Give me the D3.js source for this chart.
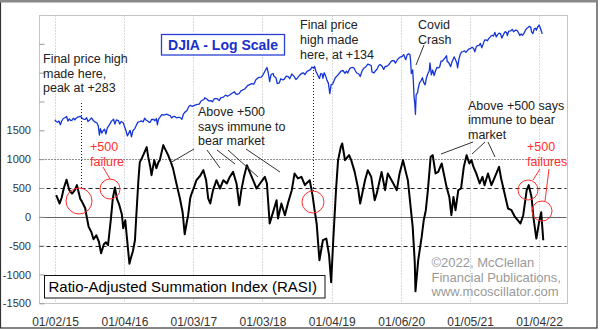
<!DOCTYPE html>
<html><head><meta charset="utf-8">
<script src="https://cdn.jsdelivr.net/npm/d3@7"></script>
<style>body{margin:0;background:#fff}svg{display:block;font-family:"Liberation Sans",Arial,sans-serif}</style>
</head><body><svg id="c" width="600" height="330"></svg>
<script>
// ---------- data ----------
const xTickLabels = ["01/02/15","01/04/16","01/03/17","01/03/18","01/04/19","01/06/20","01/05/21","01/04/22"];
const yTicks = [-1500,-1000,-500,0,500,1000,1500,2000,2500,3000];
const yLabelMax = 1500;
const refLevels = [1000,500,0,-500];

// RASI (decimal year, value)
const rasiT = [2015.02,2015.07,2015.10,2015.13,2015.17,2015.21,2015.25,2015.29,2015.32,2015.37,2015.39,2015.44,2015.46,2015.49,2015.53,2015.56,2015.60,2015.64,2015.67,2015.71,2015.74,2015.77,2015.81,2015.84,2015.87,2015.90,2015.93,2015.97,2015.99,
2016.02,2016.04,2016.08,2016.10,2016.13,2016.16,2016.18,2016.21,2016.23,2016.26,2016.28,2016.33,2016.35,2016.38,2016.40,2016.44,2016.47,2016.50,2016.52,2016.57,2016.59,2016.64,2016.68,2016.71,2016.76,2016.81,2016.85,2016.88,2016.91,2016.93,2016.96,2016.98,
2017.01,2017.05,2017.10,2017.15,2017.19,2017.22,2017.25,2017.29,2017.34,2017.39,2017.44,2017.49,2017.53,2017.58,2017.63,2017.67,2017.70,2017.74,2017.78,2017.82,2017.87,2017.92,2017.97,
2018.04,2018.07,2018.11,2018.16,2018.21,2018.23,2018.28,2018.33,2018.38,2018.43,2018.47,2018.52,2018.57,2018.62,2018.64,2018.69,2018.73,2018.76,2018.79,2018.83,2018.86,2018.88,2018.93,2018.97,
2019.00,2019.03,2019.07,2019.10,2019.14,2019.16,2019.20,2019.26,2019.29,2019.34,2019.39,2019.42,2019.49,2019.53,2019.58,2019.63,2019.66,2019.73,2019.78,2019.82,2019.90,2019.95,2019.99,
2020.04,2020.08,2020.11,2020.15,2020.18,2020.21,2020.22,2020.26,2020.31,2020.34,2020.37,2020.40,2020.44,2020.47,2020.51,2020.55,2020.60,2020.63,2020.67,2020.71,2020.74,2020.77,2020.80,2020.84,2020.88,2020.92,2020.96,
2021.00,2021.03,2021.06,2021.10,2021.15,2021.19,2021.22,2021.27,2021.32,2021.37,2021.43,2021.46,2021.51,2021.56,2021.61,2021.66,2021.70,2021.74,2021.78,2021.83,2021.86,2021.90,2021.93,2021.97,
2022.01,2022.04,2022.07];
const rasiV = [375,231,335,496,644,462,404,462,549,306,271,149,10,-175,-267,-389,-319,-441,-632,-476,-441,-493,-59,323,509,306,219,45,-198,
-59,-319,-814,-719,-597,-406,28,635,948,1017,1069,1208,1052,878,722,983,844,948,983,1243,1191,1069,948,844,578,323,80,-302,-94,28,323,404,
496,635,705,809,635,318,231,462,635,491,635,578,687,779,578,201,462,705,896,779,635,491,578,
693,578,-116,85,288,-30,231,28,259,462,752,665,693,549,578,635,375,115,-116,-753,-545,-406,-377,-667,
-1135,-406,462,983,1213,1272,983,1069,983,779,491,231,635,809,693,288,404,779,462,752,578,462,752,
983,779,635,172,-175,-788,-1292,-753,-349,-59,115,462,1040,1069,752,779,925,752,519,345,28,345,115,462,491,866,1069,
925,983,866,752,578,693,549,752,549,693,866,665,404,144,115,-2,-59,-116,28,462,549,345,-30,-377,
-89,80,-406];

// DJIA (decimal year, index level)
const djiaT = [2015.00,2015.02,2015.04,2015.06,2015.08,2015.10,2015.12,2015.15,2015.17,2015.19,2015.21,2015.23,2015.25,2015.27,2015.29,2015.31,2015.33,2015.37,2015.40,2015.42,2015.44,2015.46,2015.48,2015.50,2015.53,2015.56,2015.58,2015.61,2015.63,2015.645,2015.66,2015.68,2015.70,2015.72,2015.74,2015.76,2015.79,2015.82,2015.85,2015.87,2015.89,2015.92,2015.94,2015.96,2015.99,
2016.01,2016.03,2016.05,2016.07,2016.09,2016.11,2016.13,2016.16,2016.18,2016.20,2016.23,2016.25,2016.28,2016.30,2016.32,2016.34,2016.36,2016.38,2016.40,2016.43,2016.45,2016.47,2016.485,2016.50,2016.52,2016.55,2016.58,2016.60,2016.62,2016.64,2016.67,2016.69,2016.71,2016.74,2016.76,2016.79,2016.81,2016.84,2016.86,2016.88,2016.91,2016.94,2016.96,2016.99,
2017.02,2017.06,2017.09,2017.12,2017.16,2017.17,2017.20,2017.23,2017.26,2017.28,2017.31,2017.35,2017.38,2017.40,2017.44,2017.47,2017.50,2017.53,2017.56,2017.60,2017.62,2017.64,2017.67,2017.69,2017.72,2017.75,2017.79,2017.82,2017.85,2017.88,2017.91,2017.95,2017.99,
2018.02,2018.05,2018.07,2018.09,2018.11,2018.13,2018.16,2018.17,2018.20,2018.22,2018.25,2018.27,2018.30,2018.32,2018.35,2018.38,2018.40,2018.43,2018.46,2018.49,2018.51,2018.54,2018.57,2018.60,2018.62,2018.65,2018.67,2018.70,2018.72,2018.75,2018.76,2018.78,2018.80,2018.82,2018.83,2018.85,2018.87,2018.88,2018.90,2018.92,2018.94,2018.96,2018.98,
2019.00,2019.02,2019.04,2019.06,2019.09,2019.12,2019.14,2019.17,2019.20,2019.22,2019.24,2019.27,2019.30,2019.33,2019.35,2019.37,2019.40,2019.42,2019.45,2019.48,2019.50,2019.53,2019.55,2019.58,2019.59,2019.62,2019.64,2019.66,2019.69,2019.71,2019.74,2019.76,2019.78,2019.80,2019.83,2019.86,2019.88,2019.91,2019.93,2019.95,2019.97,
2020.00,2020.03,2020.05,2020.07,2020.08,2020.10,2020.12,2020.14,2020.15,2020.16,2020.18,2020.19,2020.20,2020.21,2020.22,2020.23,2020.25,2020.26,2020.28,2020.30,2020.32,2020.34,2020.36,2020.38,2020.40,2020.42,2020.43,2020.45,2020.47,2020.49,2020.51,2020.53,2020.55,2020.57,2020.59,2020.61,2020.63,2020.65,2020.67,2020.68,2020.70,2020.73,2020.75,2020.77,2020.78,2020.80,2020.82,2020.83,2020.85,2020.87,2020.89,2020.91,2020.93,2020.95,2020.97,2020.99,
2021.02,2021.04,2021.06,2021.08,2021.10,2021.12,2021.14,2021.16,2021.18,2021.20,2021.22,2021.24,2021.26,2021.28,2021.31,2021.33,2021.35,2021.37,2021.39,2021.41,2021.43,2021.45,2021.47,2021.50,2021.52,2021.54,2021.55,2021.57,2021.60,2021.62,2021.64,2021.67,2021.69,2021.71,2021.73,2021.75,2021.77,2021.79,2021.81,2021.83,2021.85,2021.87,2021.89,2021.90,2021.92,2021.94,2021.96,2021.97,2021.99,
2022.00,2022.01,2022.025,2022.04,2022.055];
const djiaV = [17833,17600,17500,17670,17165,17670,17970,18140,18290,17660,17950,17720,17780,18050,17830,18050,18190,18310,18010,17900,17890,18120,17600,17760,18090,17700,17540,17400,16990,15870,16650,16100,16400,16600,16000,16770,17140,17650,17900,17250,17820,17720,17260,17600,17425,
16900,16400,15766,16100,16450,15660,16400,16700,17100,17480,17600,17685,17560,18050,17800,17700,17530,17500,17870,17900,17700,18010,17140,17900,18150,18560,18470,18540,18630,18500,18400,18080,18260,18300,18100,18150,18160,17890,18600,18870,19100,19750,19920,19760,
19900,20070,20100,20620,20820,21100,20900,20600,20660,20450,20950,20950,20650,21080,21200,21530,21350,21550,21800,22090,21750,21670,21800,22200,22400,22560,23160,23330,23500,23400,24230,24650,24720,
25300,26100,26600,25500,23860,25200,25400,24900,24600,23530,23640,24400,24200,24300,24900,24800,24400,25300,24900,24270,24500,25000,25400,25500,25200,25800,25960,26150,26660,26450,26830,25800,25250,24700,24440,25400,25300,24500,25540,24950,24100,23600,21790,
23330,23400,24000,24580,25000,25440,25880,25990,25450,25850,25500,26400,26600,26500,25940,25500,25300,24820,26000,26550,26700,27300,27200,27000,25720,25500,25900,26200,27000,27200,26800,26200,26800,26800,27100,27700,28000,28050,27500,28000,28450,
28800,28950,29350,28550,28250,29300,29550,29350,27960,25400,26100,23850,21200,20190,18590,21600,21900,22650,23700,24000,24600,23700,23300,24600,25400,25900,27570,25130,26080,25020,25900,26600,26500,26700,27900,27950,28300,28650,29100,27800,27660,26760,27800,28500,28840,28210,27460,26500,28390,29480,29960,30050,30200,29860,30220,30600,
30800,31060,30820,30000,31150,31450,31500,31960,30930,31800,32780,32860,32620,33150,33750,34030,33820,34780,33590,34200,34600,34480,33290,34430,34990,34690,33960,35100,35210,35600,34960,35400,35300,34750,33970,34340,34000,34500,35300,35800,36100,36430,36140,34900,34480,35750,35900,35365,36340,
36400,36800,36100,35300,34400];

// ---------- layout ----------
const svg = d3.select("#c");
const plot = {left:39.5, top:15.5, right:567.5, bottom:303.5};
const parseD = d3.timeParse("%m/%d/%y");
const decYear = s => { const d = parseD(s); return d.getFullYear() + d3.timeDay.count(d3.timeYear.floor(d), d)/365; };
const tickYears = xTickLabels.map(decYear);

const x = d3.scaleLinear().domain([tickYears[0], tickYears[tickYears.length-1]]).range([55, 539]);
const yR = d3.scaleLinear().domain([-1500, 3500]).range([303.3, 15]);
const yD = d3.scaleLog().domain([15000, 40000]).range([142.4, 14.1]);

// outer frame
svg.append("rect").attr("x",0.5).attr("y",0.5).attr("width",596.5).attr("height",327.5)
  .attr("fill","#fff").attr("stroke","#333").attr("stroke-width",1.2);
svg.append("rect").attr("x",0).attr("y",0).attr("width",597).attr("height",2.5).attr("fill","#8a8a8a");

// plot frame
svg.append("rect").attr("x",plot.left).attr("y",plot.top)
  .attr("width",plot.right-plot.left).attr("height",plot.bottom-plot.top)
  .attr("fill","none").attr("stroke","#c4c4c4").attr("stroke-width",1);

// vertical gridlines
svg.append("g").selectAll("line").data(tickYears).join("line")
  .attr("x1",d=>Math.round(x(d))+0.5).attr("x2",d=>Math.round(x(d))+0.5)
  .attr("y1",plot.top).attr("y2",plot.bottom)
  .attr("stroke","#b5b5b5").attr("stroke-dasharray","1,2");

// horizontal reference lines
svg.append("g").selectAll("line").data(refLevels).join("line")
  .attr("x1",plot.left).attr("x2",plot.right-1)
  .attr("y1",d=>Math.round(yR(d))+0.5).attr("y2",d=>Math.round(yR(d))+0.5)
  .attr("stroke",d=>d===0?"#666":"#222")
  .attr("stroke-width",1)
  .attr("stroke-dasharray",d=>d===0?null:(d===1000?"1,2":"4,3"));

// y axis
const yAxis = d3.axisLeft(yR).tickValues(yTicks).tickSizeInner(-5).tickSizeOuter(0).tickPadding(8.5)
  .tickFormat(d => d<=yLabelMax ? d : "");
const ga = svg.append("g").attr("transform",`translate(${plot.left},0)`).call(yAxis);
ga.select(".domain").remove();
ga.selectAll(".tick line").attr("stroke","#999");
ga.selectAll("text").attr("font-size",11).attr("fill","#333").attr("font-family","Liberation Sans, Arial, sans-serif");

// x axis
const xAxis = d3.axisBottom(x).tickValues(tickYears).tickFormat((d,i)=>xTickLabels[i]).tickSize(0).tickPadding(14.2);
const gx = svg.append("g").attr("transform",`translate(0,${plot.bottom-0.5})`).call(xAxis);
gx.select(".domain").remove();
gx.selectAll("text").attr("font-size",12).attr("fill","#333").attr("font-family","Liberation Sans, Arial, sans-serif");

// DJIA line
const djia = d3.zip(djiaT, djiaV);
svg.append("path").datum(djia)
  .attr("fill","none").attr("stroke","#1535d8").attr("stroke-width",1.3).attr("stroke-linejoin","round")
  .attr("d", d3.line().x(d=>x(d[0])).y(d=>yD(d[1])));

// RASI line
const rasi = d3.zip(rasiT, rasiV);
svg.append("path").datum(rasi)
  .attr("fill","none").attr("stroke","#000").attr("stroke-width",2).attr("stroke-linejoin","round")
  .attr("d", d3.line().x(d=>x(d[0])).y(d=>yR(d[1])));

// ---------- annotations ----------
const ann = svg.append("g").attr("font-size",12.5).attr("fill","#222");
function lines(xp, ys, arr, color){
  arr.forEach((t,i)=> ann.append("text").attr("x",xp).attr("y",ys[i]).attr("fill",color||"#222").text(t));
}
lines(43, [63,77.5,92], ["Final price high","made here,","peak at +283"]);
lines(300, [29,44,59], ["Final price","high made","here, at +134"]);
lines(418, [28.5,44], ["Covid","Crash"]);
lines(198, [116,130.5,145], ["Above +500","says immune to","bear market"]);
lines(468, [109.5,124,138.5], ["Above +500 says","immune to bear","market"]);
lines(90, [151,166], ["+500","failure"], "#ff3030");
lines(527, [151,166], ["+500","failures"], "#ff3030");

// dotted verticals at the final price highs
[[x(2015.38),103,188],[x(2018.735),67,192]].forEach(([xx,y1,y2])=>{
  svg.append("line").attr("x1",Math.round(xx)+0.5).attr("x2",Math.round(xx)+0.5).attr("y1",y1).attr("y2",y2)
    .attr("stroke","#222").attr("stroke-dasharray","1,2");
});

// leader lines
const leaders = [
  [424,45,416,65],
  [194,149,170,163],[207,150,220,168],[217,150,235,164],[228,150,258,177],[246,149,280,172],
  [473,142,441,154],[485,142,472,154],[488,142,495,157]
];
svg.append("g").selectAll("line").data(leaders).join("line")
  .attr("x1",d=>d[0]).attr("y1",d=>d[1]).attr("x2",d=>d[2]).attr("y2",d=>d[3])
  .attr("stroke","#333").attr("stroke-width",1);

const redLeaders = [[103,167,110,179],[540,169,533,180],[549,169,545,201]];
svg.append("g").selectAll("line").data(redLeaders).join("line")
  .attr("x1",d=>d[0]).attr("y1",d=>d[1]).attr("x2",d=>d[2]).attr("y2",d=>d[3])
  .attr("stroke","#ff3030").attr("stroke-width",1);

const circles = [[79,201,13],[110,189,10],[313,202,11],[528,190,10],[542,211,10]];
svg.append("g").selectAll("circle").data(circles).join("circle")
  .attr("cx",d=>d[0]).attr("cy",d=>d[1]).attr("r",d=>d[2])
  .attr("fill","none").attr("stroke","#ff3030").attr("stroke-width",1);

// DJIA title box
svg.append("rect").attr("x",161.5).attr("y",34.5).attr("width",123).attr("height",20.5)
  .attr("fill","#fff").attr("stroke","#2a3fd6").attr("stroke-width",1.3);
svg.append("text").attr("x",223).attr("y",50).attr("text-anchor","middle")
  .attr("font-size",14).attr("font-weight","bold").attr("fill","#1a2fcc").text("DJIA - Log Scale");

// RASI title box
svg.append("rect").attr("x",44.5).attr("y",275.5).attr("width",280.5).attr("height",22.5)
  .attr("fill","#fff").attr("stroke","#111").attr("stroke-width",1);
svg.append("text").attr("x",48.5).attr("y",292.3).attr("font-size",15).attr("fill","#000")
  .text("Ratio-Adjusted Summation Index (RASI)");

// copyright
const cp = svg.append("g").attr("font-size",13).attr("fill","#9a9a9a");
[["©2022, McClellan",267],["Financial Publications,",281.5],["www.mcoscillator.com",295.5]]
  .forEach(([t,yy])=>cp.append("text").attr("x",431.5).attr("y",yy).text(t));
</script></body></html>
